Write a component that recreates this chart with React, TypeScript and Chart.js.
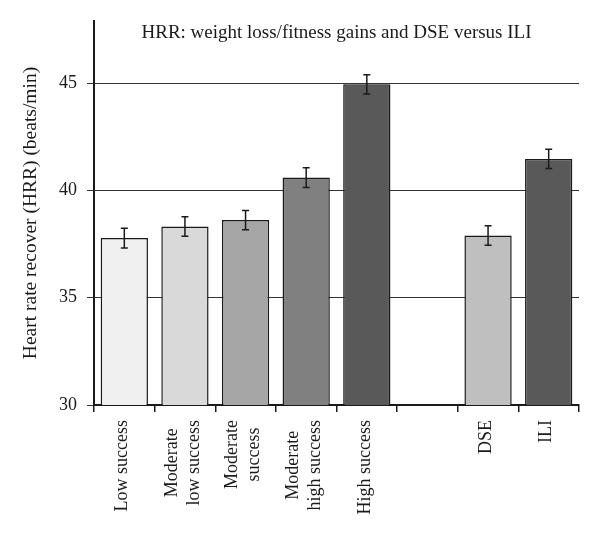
import { useEffect, useRef } from 'react';
import { Chart, registerables } from 'chart.js';

Chart.register(...registerables);

const labels = [
  ['Low success'],
  ['Moderate', 'low success'],
  ['Moderate', 'success'],
  ['Moderate', 'high success'],
  ['High success'],
  [''],
  ['DSE'],
  ['ILI'],
];
const hrrValues = [37.78, 38.32, 38.62, 40.6, 44.95, null, 37.9, 41.47];
const hrrErrors = [0.46, 0.45, 0.45, 0.46, 0.45, null, 0.45, 0.45];
const barColors = ['#f0f0f0', '#d9d9d9', '#a6a6a6', '#808080', '#595959', '#ffffff', '#bfbfbf', '#595959'];
const yTicks = [30, 35, 40, 45];

const FONT = '"Liberation Serif", "Times New Roman", serif';
const INK = '#1a1a1a';

// error bars, drawn from the y scale
const errorBars = {
  id: 'errorBars',
  afterDatasetsDraw(chart: any) {
    const { ctx, scales } = chart;
    const meta = chart.getDatasetMeta(0);
    ctx.save();
    ctx.strokeStyle = INK;
    ctx.lineWidth = 1.5;
    meta.data.forEach((bar: any, i: number) => {
      const v = hrrValues[i];
      const e = hrrErrors[i];
      if (v == null || e == null) return;
      const top = scales.y.getPixelForValue(v + e);
      const bot = scales.y.getPixelForValue(v - e);
      ctx.beginPath();
      ctx.moveTo(bar.x, top);
      ctx.lineTo(bar.x, bot);
      ctx.moveTo(bar.x - 3.5, top);
      ctx.lineTo(bar.x + 3.5, top);
      ctx.moveTo(bar.x - 3.5, bot);
      ctx.lineTo(bar.x + 3.5, bot);
      ctx.stroke();
    });
    ctx.restore();
  },
};

// title inside the plot + rotated category labels
const textLayer = {
  id: 'textLayer',
  afterDraw(chart: any) {
    const { ctx, chartArea, scales } = chart;
    ctx.save();
    ctx.fillStyle = INK;
    ctx.font = `19px ${FONT}`;
    ctx.textAlign = 'center';
    ctx.textBaseline = 'middle';
    ctx.fillText('HRR: weight loss/fitness gains and DSE versus ILI', (chartArea.left + chartArea.right) / 2, 33);

    ctx.font = `18px ${FONT}`;
    const lh = 22;
    labels.forEach((lines, i) => {
      const x = scales.x.getPixelForTick(i);
      const y = chartArea.bottom + 15;
      const widths = lines.map((l) => ctx.measureText(l).width);
      const block = Math.max(...widths);
      ctx.save();
      ctx.translate(x, y);
      ctx.rotate(-Math.PI / 2);
      ctx.textAlign = 'center';
      lines.forEach((l, j) => {
        const off = (j - (lines.length - 1) / 2) * lh - 2;
        ctx.fillText(l, -block / 2, off);
      });
      ctx.restore();
    });
    ctx.restore();
  },
};

export default function App() {
  const canvasRef = useRef<HTMLCanvasElement>(null);

  useEffect(() => {
    document.body.style.margin = '0';
    if (!canvasRef.current) return;
    const chart = new Chart(canvasRef.current, {
      type: 'bar',
      data: {
        labels: labels.map((l) => l.join(' ')),
        datasets: [
          {
            data: hrrValues,
            backgroundColor: barColors,
            borderColor: INK,
            borderWidth: 1.5,
            borderSkipped: false,
            categoryPercentage: 1,
            barPercentage: 0.78,
          },
        ],
      },
      options: {
        responsive: true,
        maintainAspectRatio: false,
        animation: false,
        layout: { padding: { top: 21, right: 21, left: 0, bottom: 0 } },
        plugins: {
          legend: { display: false },
          tooltip: { enabled: false },
        },
        scales: {
          x: {
            offset: true,
            grid: {
              offset: true,
              drawOnChartArea: false,
              drawTicks: true,
              tickLength: 7,
              color: INK,
              lineWidth: 1.5,
            },
            border: { display: true, color: INK, width: 2 },
            ticks: { display: false, autoSkip: false },
            afterFit: (scale: any) => {
              scale.height = 137;
            },
          },
          y: {
            min: 30,
            max: 47.9,
            afterBuildTicks: (axis: any) => {
              axis.ticks = yTicks.map((v) => ({ value: v }));
            },
            grid: {
              color: '#333333',
              lineWidth: 1,
              tickLength: 7,
            },
            border: { display: true, color: INK, width: 2 },
            ticks: {
              font: { family: FONT, size: 18 },
              color: INK,
              padding: 10,
            },
            title: {
              display: true,
              text: 'Heart rate recover (HRR) (beats/min)',
              font: { family: FONT, size: 19.5 },
              color: INK,
              padding: { top: 19, bottom: 0 },
            },
            afterFit: (scale: any) => {
              scale.width = 94;
            },
          },
        },
      },
      plugins: [errorBars, textLayer],
    });
    return () => chart.destroy();
  }, []);

  return (
    <div style={{ width: 600, height: 542, position: 'relative', background: '#fff' }}>
      <canvas ref={canvasRef} />
    </div>
  );
}
